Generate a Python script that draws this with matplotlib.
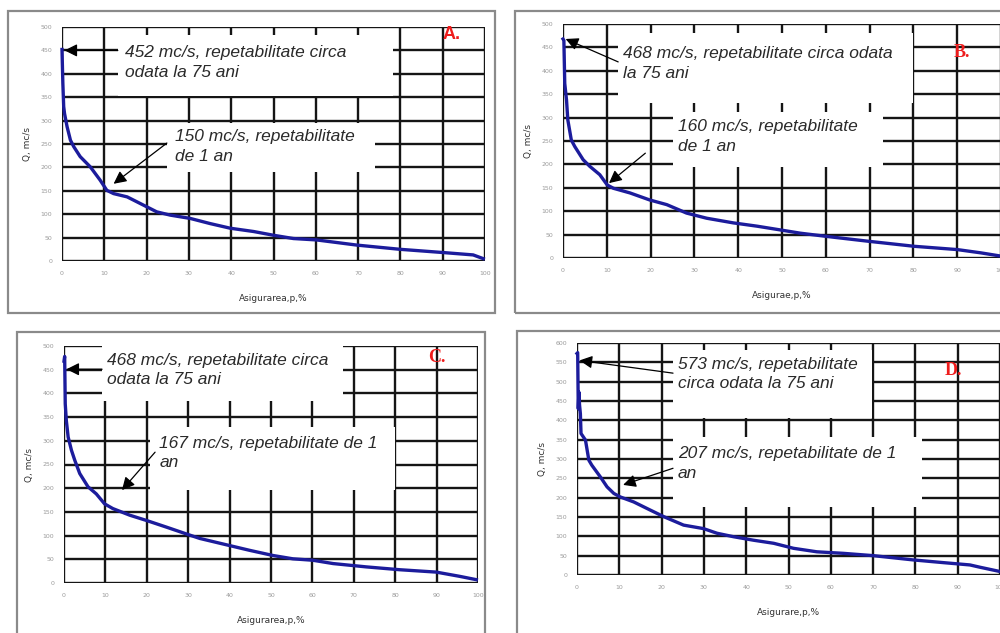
import numpy as np
import matplotlib
matplotlib.use("Agg")
import matplotlib.pyplot as plt
from matplotlib.patches import Rectangle

# flow duration curves
x_a = [0, 0.2, 0.4, 0.6, 1.2, 2, 2.8, 4.3, 6.7, 9, 10.6, 12.2, 15.4, 20, 22.4, 25.6,
       30.3, 35, 39.8, 45.3, 50, 54.7, 60.2, 69.7, 79.9, 90.2, 97.2, 99.6]
q_a = [452, 380, 330, 315, 287, 258, 244, 223, 201, 173, 151, 144, 137, 116, 105, 98,
       91, 80, 70, 63, 55, 48, 45, 34, 25, 18, 13, 5]

x_b = [0, 0.2, 0.4, 0.8, 1.1, 1.9, 2.7, 4.6, 6.1, 8.4, 10.1, 11.5, 15.3, 19.8, 23.7,
       28.2, 32.8, 38.9, 44.3, 49.6, 54.2, 60.3, 69.5, 80.2, 90, 95.4, 100]
q_b = [468, 465, 373, 338, 295, 252, 238, 210, 196, 178, 156, 149, 139, 124, 114,
       96, 85, 75, 68, 60, 53, 46, 36, 25, 18, 11, 4]

x_c = [0, 0.16, 0.3, 0.56, 1, 1.8, 2.6, 3.8, 5.8, 7.8, 9.8, 11.8, 15.9, 19.9, 24.7,
       30.4, 32.8, 40, 44.8, 50.5, 55.3, 60.1, 65, 73, 81.1, 89.9, 95.6, 99.6]
q_c = [468, 478, 378, 343, 308, 280, 259, 231, 203, 188, 167, 157, 143, 132, 118,
       101, 94, 79, 69, 58, 51, 48, 41, 34, 28, 23, 14, 7]

x_d = [0, 0.16, 0.3, 0.45, 0.6, 0.8, 0.95, 2, 2.8, 3.5, 5.5, 7.1, 8.7, 10.2, 13.4,
       17.3, 20.5, 25.2, 29.9, 33.1, 37, 41.7, 46.5, 51.2, 56.7, 63, 70.1, 79.5,
       86.6, 92.9, 95.3, 100]
q_d = [573, 575, 430, 473, 440, 417, 366, 349, 297, 284, 254, 228, 211, 202, 189,
       168, 151, 129, 120, 108, 99, 90, 82, 69, 60, 56, 50, 39, 32, 26, 20, 9]

ylabel = "Q, mc/s"
xlabels = ["Asigurarea,p,%", "Asigurae,p,%", "Asigurarea,p,%", "Asigurare,p,%"]
letters = ["A.", "B.", "C.", "D."]
notes_top = ["452 mc/s, repetabilitate circa\nodata la 75 ani",
             "468 mc/s, repetabilitate circa odata\nla 75 ani",
             "468 mc/s, repetabilitate circa\nodata la 75 ani",
             "573 mc/s, repetabilitate\ncirca odata la 75 ani"]
notes_low = ["150 mc/s, repetabilitate\nde 1 an",
             "160 mc/s, repetabilitate\nde 1 an",
             "167 mc/s, repetabilitate de 1\nan",
             "207 mc/s, repetabilitate de 1\nan"]

W, H = 1000, 633
CURVE = "#1c1c9c"


def px_rect(l, t, r, b):
    return [l / W, 1 - b / H, (r - l) / W, (b - t) / H]


def draw_panel(frame, axrect, xs, qs, ymax, xlabel, letter, letter_style,
               top_note, low_note):
    fig.patches.append(Rectangle((frame[0], frame[1]), frame[2], frame[3],
                                 transform=fig.transFigure, fill=False,
                                 ec="#8a8a8a", lw=1.6, zorder=0))
    ax = fig.add_axes(axrect)
    ax.set_xlim(0, 100)
    ax.set_ylim(0, ymax)
    ax.set_xticks(np.arange(0, 101, 10))
    ax.set_yticks(np.arange(0, ymax + 1, 50))
    ax.set_axisbelow(True)
    ax.grid(True, color="#151515", lw=1.7)
    for s in ax.spines.values():
        s.set_visible(False)
    ax.tick_params(length=0, labelsize=4.5, labelcolor="#9a9a9a", pad=7)

    for txt, box, tpos, tail, head in [top_note, low_note]:
        x0, y0, x1, y1 = box
        ax.add_patch(Rectangle((x0, y0), x1 - x0, y1 - y0, fc="white", ec="none",
                               zorder=1, clip_on=False))
        ax.text(tpos[0], tpos[1], txt, fontsize=12.5, style="italic",
                family="Liberation Sans", color="#2a2a2a", va="top",
                linespacing=1.4, zorder=4)
        ax.annotate("", xy=head, xytext=tail, zorder=4,
                    arrowprops=dict(arrowstyle="-|>", color="black", lw=0.9,
                                    mutation_scale=19, shrinkA=0, shrinkB=0))

    ax.plot(xs, qs, color=CURVE, lw=2.4, zorder=3, clip_on=False)

    ax.set_ylabel(ylabel, fontsize=6.5, color="#333333", labelpad=6)
    ax.set_xlabel(xlabel, fontsize=6.5, color="#333333", labelpad=13)
    ax.text(letter_style[0], letter_style[1], letter, transform=ax.transAxes,
            color="#ee1c1c", fontsize=13, fontweight="bold",
            family=letter_style[2], ha="center", va="center", zorder=5)
    return ax


fig = plt.figure(figsize=(10, 6.33), dpi=100, facecolor="white")

# A
draw_panel(px_rect(8, 11, 495, 313), px_rect(62, 27, 485, 261), x_a, q_a, 500,
           xlabels[0], letters[0], (0.92, 0.97, "Liberation Sans"),
           (notes_top[0], (13.2, 352, 78.3, 483), (14.9, 462), (13.2, 450), (0.6, 450)),
           (notes_low[0], (24.8, 190, 74, 295), (26.7, 281), (24.8, 252), (12.2, 165)))
# B
draw_panel(px_rect(515, 11, 1010, 313), px_rect(563, 24, 1001, 258), x_b, q_b, 500,
           xlabels[1], letters[1], (0.91, 0.88, "Liberation Serif"),
           (notes_top[1], (12.6, 331, 79.9, 481), (13.7, 453), (12.6, 419), (0.6, 468)),
           (notes_low[1], (25.2, 195, 73, 312), (26.3, 297), (18.8, 224), (10.5, 160)))
# C
draw_panel(px_rect(17, 332, 485, 645), px_rect(64, 346, 478, 583), x_c, q_c, 500,
           xlabels[2], letters[2], (0.90, 0.95, "Liberation Serif"),
           (notes_top[2], (9.2, 385, 67.4, 510), (10.4, 486), (9.2, 451), (0.6, 451)),
           (notes_low[2], (20.8, 196, 80, 329), (23, 311), (22, 276), (14, 196)))
# D
draw_panel(px_rect(517, 331, 1010, 645), px_rect(577, 343, 1000, 575), x_d, q_d, 600,
           xlabels[3], letters[3], (0.89, 0.88, "Liberation Serif"),
           (notes_top[3], (22.7, 405, 69.7, 581), (23.9, 565), (22.7, 522), (0.6, 555)),
           (notes_low[3], (22.7, 176, 81.6, 357), (23.9, 334), (22.7, 276), (10.9, 233)))

fig.savefig("out.png", dpi=100, facecolor="white")
